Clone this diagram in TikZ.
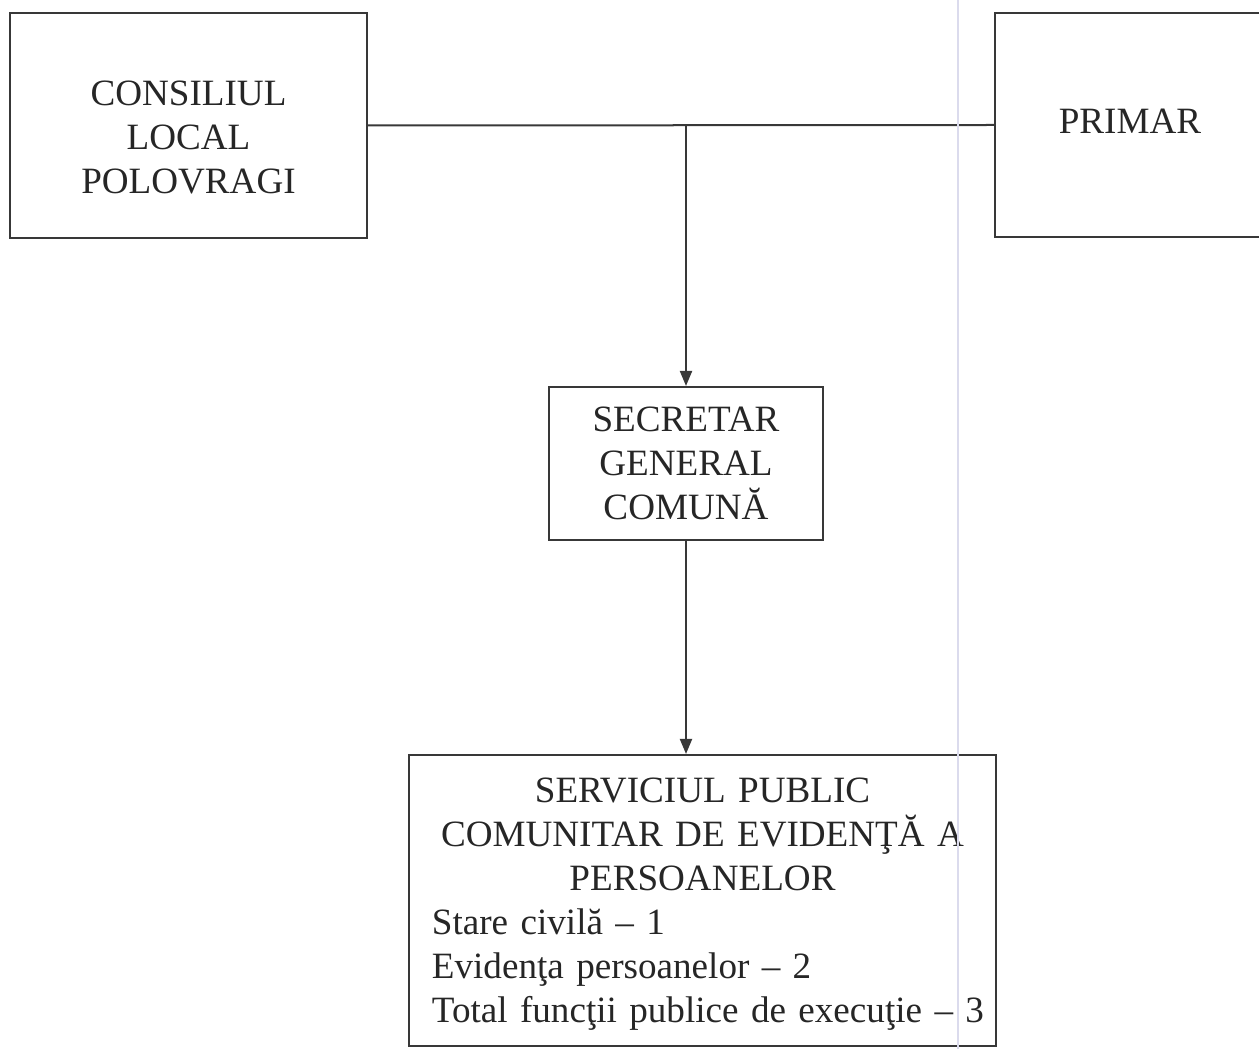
\documentclass[tikz,border=0pt]{standalone}
\usepackage{fontspec}
\setmainfont{Liberation Serif}
\usetikzlibrary{arrows.meta}
\definecolor{inkgrey}{rgb}{0.22,0.22,0.22}
\definecolor{scanline}{rgb}{0.86,0.86,0.93}
\begin{document}
\begin{tikzpicture}[x=0.025cm,y=-0.025cm,
    box/.style={draw=inkgrey,line width=0.05cm,rectangle,align=center,
      font=\fontsize{26.4}{31.3}\selectfont,text=black!85},
    link/.style={draw=inkgrey,line width=0.05cm},
    arrowlink/.style={link,-{Triangle[width=0.3cm,length=0.375cm]}}]
  \useasboundingbox (0,0) rectangle (1259,1049);

  % Marking box Consiliul local
  \node [box,minimum width=8.925cm,minimum height=5.625cm] (consiliu) at (188.5,125.5)
    {\raisebox{-0.375cm}[\height][\depth]{\begin{tabular}{@{}c@{}}CONSILIUL\\LOCAL\\POLOVRAGI\end{tabular}}};

  % Marking box Primar
  \node [box,minimum width=6.75cm,minimum height=5.6cm] (primar) at (1130,125)
    {\raisebox{0.1cm}[\height][\depth]{PRIMAR}};

  % Marking box Secretar general
  \node [box,minimum width=6.85cm,minimum height=3.825cm] (secretar) at (686,463.5)
    {SECRETAR\\GENERAL\\COMUNĂ};

  % Marking box Serviciul public
  \node [box,align=left,text width=14.125cm,inner xsep=0.275cm,inner ysep=0pt,
    minimum height=7.275cm] (serviciu) at (702.5,900.5)
    {{\centering SERVICIUL PUBLIC\\COMUNITAR DE EVIDENŢĂ A\\PERSOANELOR\par}
     \noindent\hspace*{0.3cm}Stare civilă – 1\par
     \noindent\hspace*{0.3cm}Evidenţa persoanelor – 2\par
     \noindent\hspace*{0.3cm}Total funcţii publice de execuţie – 3\par
     \vspace*{-0.2cm}};

  % Drawing line Consiliu Primar
  \draw [link] (consiliu.east) -- (primar.west);
  \coordinate (junc) at (secretar.north |- consiliu.east);

  % Drawing arrows down
  \draw [arrowlink] (junc) -- (secretar.north);
  \draw [arrowlink] (secretar.south) -- (secretar.south |- serviciu.north);

  % Drawing scan line
  \draw [scanline,line width=0.04cm] (958,0) -- (958,1049);
\end{tikzpicture}
\end{document}
